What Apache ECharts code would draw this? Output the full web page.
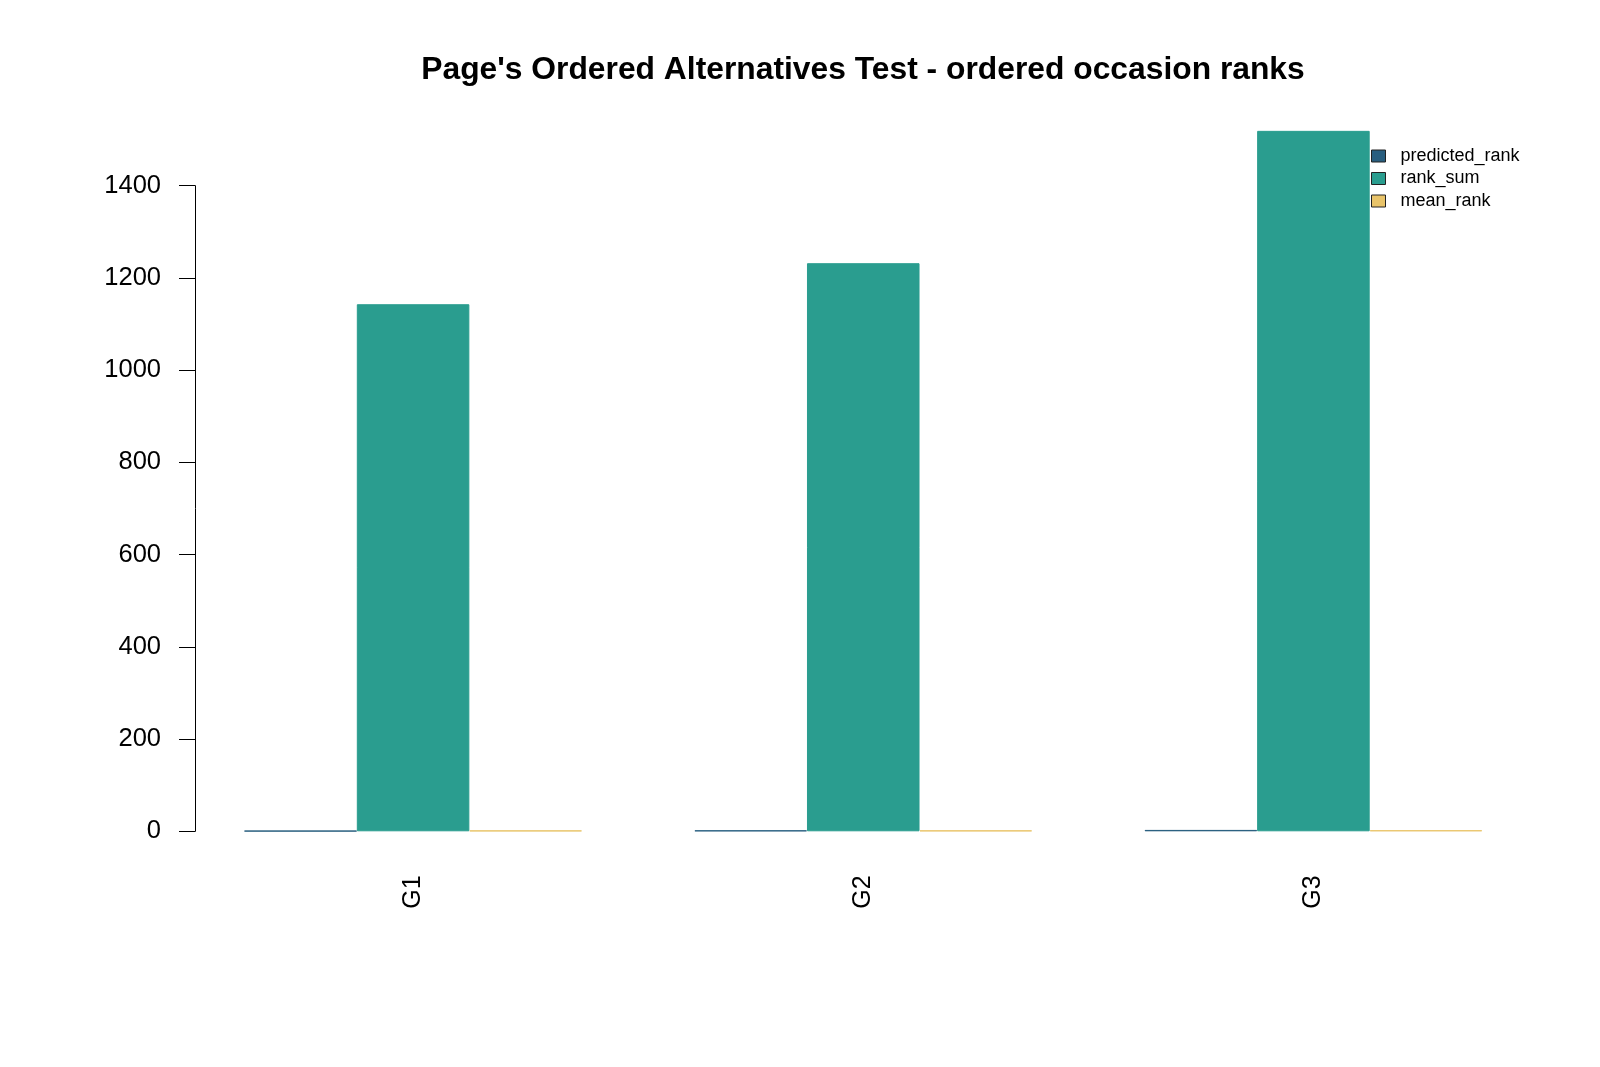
<!DOCTYPE html>
<html>
<head>
<meta charset="utf-8">
<script src="https://cdn.jsdelivr.net/npm/echarts@6/dist/echarts.min.js"></script>
<style>
  html, body { margin: 0; padding: 0; background: #fff; }
  #chart { width: 1600px; height: 1067px; }
</style>
</head>
<body>
<div id="chart"></div>
<script>
var groups = ['G1', 'G2', 'G3']
var predictedRank = [1, 2, 3]
var rankSum = [1143, 1232, 1519]
var meanRank = [1.761, 1.898, 2.341]
var seriesNames = ['predicted_rank', 'rank_sum', 'mean_rank']
var colors = ['#285e7f', '#2a9d8f', '#e9c46a']

var chart = echarts.init(document.getElementById('chart'))

var fontFam = 'Liberation Sans, Arial, sans-serif'

function barSeries(name, data, color) {
  return {
    name: name,
    type: 'bar',
    xAxisIndex: 1,
    yAxisIndex: 1,
    data: data,
    barGap: '0%',
    barCategoryGap: '25%',
    itemStyle: { color: color, borderColor: color, borderWidth: 1 },
    emphasis: { disabled: true }
  }
}

chart.setOption({
  animation: false,
  backgroundColor: '#fff',
  title: {
    text: "Page's Ordered Alternatives Test - ordered occasion ranks",
    left: 858,
    textAlign: 'center',
    top: 49,
    textStyle: { fontFamily: fontFam, fontSize: 31.8, fontWeight: 'bold', color: '#000' }
  },
  legend: {
    orient: 'vertical',
    left: 1371,
    top: 147,
    padding: 0,
    itemWidth: 14,
    itemHeight: 12,
    itemGap: 4.5,
    icon: 'rect',
    data: seriesNames,
    itemStyle: { borderColor: '#222', borderWidth: 1 },
    textStyle: { fontFamily: fontFam, fontSize: 18, color: '#000', padding: [0, 0, 0, 10] }
  },
  grid: [
    // grid that carries the y axis (0-1400 only, like R)
    { left: 188, right: 61.5, top: 185.7, bottom: 235.7 },
    // grid that carries the bars
    { left: 188, right: 61.5, top: 93.5, bottom: 235.7 }
  ],
  xAxis: [
    {
      gridIndex: 0, type: 'category', data: groups,
      show: false
    },
    {
      gridIndex: 1, type: 'category', data: groups,
      axisLine: { show: false },
      axisTick: { show: false },
      axisLabel: {
        rotate: 90, margin: 44, color: '#000',
        fontFamily: fontFam, fontSize: 25
      }
    }
  ],
  yAxis: [
    {
      gridIndex: 0, type: 'value', min: 0, max: 1400, interval: 200,
      offset: -7,
      splitLine: { show: false },
      axisLine: { show: true, lineStyle: { color: '#000', width: 1 } },
      axisTick: { show: true, length: 16, lineStyle: { color: '#000', width: 1 } },
      axisLabel: {
        margin: 34, color: '#000', fontFamily: fontFam, fontSize: 25.5,
        formatter: function (v) { return String(v) }
      }
    },
    {
      gridIndex: 1, type: 'value', min: 0, max: 1600,
      show: false,
      splitLine: { show: false }
    }
  ],
  series: [
    barSeries(seriesNames[0], predictedRank, colors[0]),
    barSeries(seriesNames[1], rankSum, colors[1]),
    barSeries(seriesNames[2], meanRank, colors[2])
  ]
})
</script>
</body>
</html>
